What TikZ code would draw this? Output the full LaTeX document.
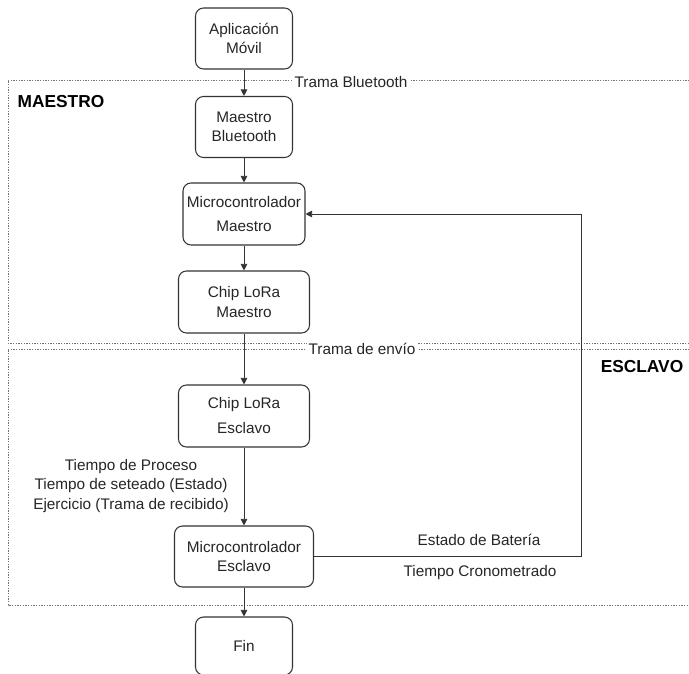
\documentclass[tikz,border=0pt]{standalone}
\usepackage{fontspec}
\setmainfont{Liberation Sans}
\usetikzlibrary{arrows.meta}
\begin{document}
\begin{tikzpicture}[x=0.75pt,y=-0.75pt,
  every node/.style={font=\fontsize{11.5}{14.5}\selectfont, text=black!85},
  block/.style={draw=black!80, line width=0.8pt, rounded corners=6pt,
    align=center, inner sep=0pt, fill=white},
  region/.style={draw=black!55, line width=0.7pt, dash pattern=on 1pt off 1pt},
  flow/.style={draw=black!80, line width=0.7pt, -{Triangle[length=5pt,width=5pt]}},
  tag/.style={fill=white, inner sep=1pt, align=center},
  zone/.style={font=\fontsize{13}{15}\selectfont\bfseries, text=black}]
\useasboundingbox (0,0) rectangle (689,674);
\fill[white] (0,0) rectangle (689,674);

% dotted areas for the two stations
\draw[region] (700,80) -- (8,80) -- (8,343) -- (700,343);
\draw[region] (700,349) -- (8,349) -- (8,605) -- (700,605);

% blocks
\node[block, minimum width=97pt*0.75, minimum height=61pt*0.75] (app) at (244,38.5) {Aplicación\\Móvil};
\node[block, minimum width=97pt*0.75, minimum height=61pt*0.75] (bt) at (244,127) {Maestro\\Bluetooth};
\node[block, minimum width=122pt*0.75, minimum height=62pt*0.75] (mcm) at (244,214) {};
\node (mcmtop) at (244,202) {Microcontrolador};
\node (mcmbot) at (244,226) {Maestro};
\node[block, minimum width=131pt*0.75, minimum height=62pt*0.75] (lorm) at (244,302) {Chip LoRa\\Maestro};
\node[block, minimum width=131pt*0.75, minimum height=62pt*0.75] (lore) at (244,416) {};
\node (loretop) at (244,405) {Chip LoRa};
\node (lorebot) at (244,428) {Esclavo};
\node[block, minimum width=139pt*0.75, minimum height=61pt*0.75] (mce) at (244,556.5) {Microcontrolador\\Esclavo};
\node[block, minimum width=97pt*0.75, minimum height=58pt*0.75] (fin) at (244,646) {Fin};

% connectors
\draw[flow] (app) -- (bt);
\draw[flow] (bt) -- (mcm);
\draw[flow] (mcm) -- (lorm);
\draw[flow] (lorm) -- (lore);
\draw[flow] (lore) -- (mce);
\draw[flow] (mce) -- (fin);
\coordinate (turn) at (581,556.5);
\draw[flow] (mce.east) -- (turn) |- (mcm.east);

% labels
\node[tag] (tb) at (351,82) {Trama Bluetooth};
\node[tag] (te) at (362,349) {Trama de envío};
\node[zone] (maestro) at (61,102) {MAESTRO};
\node[zone] (esclavo) at (642,367) {ESCLAVO};
\node[align=center, inner sep=0pt, font=\fontsize{11.5}{14.3}\selectfont] (datos) at (131,486) {Tiempo de Proceso\\Tiempo de seteado (Estado)\\Ejercicio (Trama de recibido)};
\node (bat) at (479,540) {Estado de Batería};
\node (crono) at (480,573) {Tiempo Cronometrado};
\end{tikzpicture}
\end{document}
